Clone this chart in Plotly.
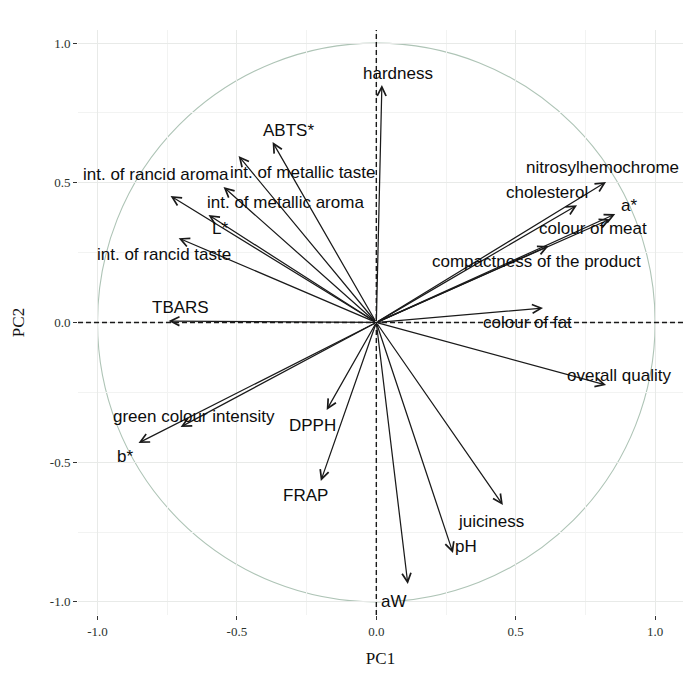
import plotly.graph_objects as go

# Variable loadings on the first two principal components (arrow tips)
variables = [
    "hardness", "ABTS*", "int. of metallic taste", "int. of metallic aroma",
    "int. of rancid aroma", "L*", "int. of rancid taste", "TBARS",
    "green colour intensity", "b*", "DPPH", "FRAP", "aW", "pH", "juiciness",
    "overall quality", "colour of fat", "compactness of the product",
    "colour of meat", "a*", "cholesterol", "nitrosylhemochrome",
]
pc1 = [0.020, -0.372, -0.494, -0.548, -0.738, -0.602, -0.709, -0.745,
       -0.702, -0.853, -0.178, -0.199, 0.113, 0.275, 0.454,
       0.824, 0.598, 0.618, 0.839, 0.857, 0.720, 0.824]
pc2 = [0.850, 0.646, 0.596, 0.485, 0.453, 0.385, 0.302, 0.005,
       -0.374, -0.431, -0.313, -0.567, -0.936, -0.825, -0.653,
       -0.224, 0.052, 0.274, 0.370, 0.388, 0.420, 0.503]

# Label anchor positions (centre of each text)
label_x = [0.077, -0.314, -0.264, -0.325, -0.792, -0.559, -0.763, -0.702,
           -0.655, -0.900, -0.228, -0.253, 0.063, 0.321, 0.411,
           0.871, 0.544, 0.573, 0.778, 0.907, 0.612, 0.810]
label_y = [0.893, 0.689, 0.536, 0.428, 0.528, 0.338, 0.245, 0.052,
           -0.338, -0.481, -0.367, -0.621, -1.000, -0.800, -0.714,
           -0.188, 0.000, 0.220, 0.335, 0.420, 0.467, 0.556]

tick_vals = [-1.0, -0.5, 0.0, 0.5, 1.0]
tick_text = ["-1.0", "-0.5", "0.0", "0.5", "1.0"]
minor_vals = [-0.75, -0.25, 0.25, 0.75]

fig = go.Figure()

# invisible trace so the axes are drawn
fig.add_trace(go.Scatter(x=[0], y=[0], mode="markers",
                         marker=dict(opacity=0), hoverinfo="skip",
                         showlegend=False))

# correlation circle and dashed reference lines
fig.add_shape(type="circle", xref="x", yref="y", x0=-1, y0=-1, x1=1, y1=1,
              line=dict(color="#aec4b6", width=1.1), layer="below")
fig.add_shape(type="line", xref="x", yref="paper", x0=0, x1=0, y0=0, y1=1,
              line=dict(color="#1a1a1a", width=1.4, dash="5px,3px"))
fig.add_shape(type="line", xref="paper", yref="y", x0=0, x1=1, y0=0, y1=0,
              line=dict(color="#1a1a1a", width=1.4, dash="5px,3px"))

annotations = []
for name, x, y in zip(variables, pc1, pc2):
    annotations.append(dict(
        x=x, y=y, ax=0, ay=0, xref="x", yref="y", axref="x", ayref="y",
        text="", showarrow=True, arrowhead=5, arrowsize=1.4,
        arrowwidth=1.25, arrowcolor="#1a1a1a", standoff=0, startstandoff=0,
    ))
for name, x, y in zip(variables, label_x, label_y):
    annotations.append(dict(
        x=x, y=y, xref="x", yref="y", text=name, showarrow=False,
        xanchor="center", yanchor="middle",
        font=dict(family="Liberation Sans, Arial, sans-serif", size=17,
                  color="#0d0d0d"),
    ))

axis_common = dict(
    tickvals=tick_vals, ticktext=tick_text,
    ticks="outside", ticklen=4, tickwidth=1, tickcolor="#333333",
    tickfont=dict(family="Liberation Serif, Times New Roman, serif",
                  size=13, color="#2a332d"),
    showgrid=True, gridcolor="#e8eae8", gridwidth=1,
    minor=dict(tickvals=minor_vals, showgrid=True, gridcolor="#f2f3f2",
               gridwidth=1, ticks=""),
    zeroline=False, showline=False,
)

fig.update_layout(
    width=683, height=676,
    margin=dict(l=78, r=0, t=30, b=61),
    paper_bgcolor="white", plot_bgcolor="white",
    showlegend=False,
    annotations=annotations,
    xaxis=dict(range=[-1.07, 1.10],
               title=dict(text="PC1", standoff=14,
                          font=dict(family="Liberation Serif, serif",
                                    size=17, color="#111111")),
               **axis_common),
    yaxis=dict(range=[-1.047, 1.047],
               title=dict(text="PC2", standoff=20,
                          font=dict(family="Liberation Serif, serif",
                                    size=17, color="#111111")),
               **axis_common),
)

fig.write_html("out.html")
